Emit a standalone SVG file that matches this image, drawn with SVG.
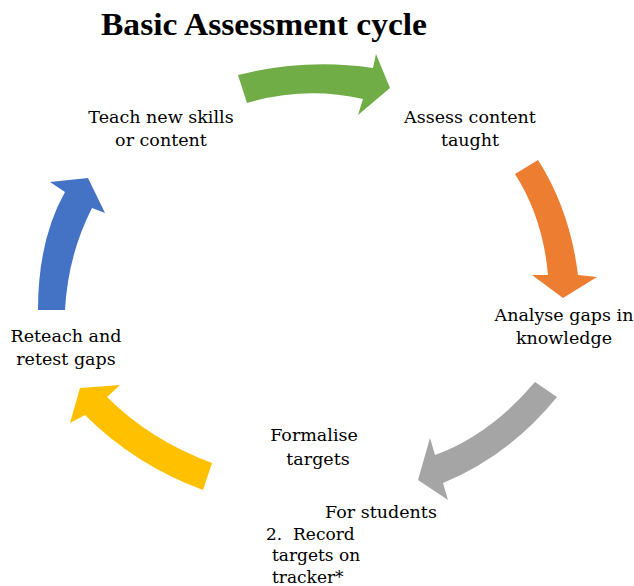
<svg xmlns="http://www.w3.org/2000/svg" width="634" height="586" viewBox="0 0 634 586">
  <style>
    .title { font-family: "Liberation Serif", "Times New Roman", serif; font-weight: bold; font-size: 31px; fill: #000; }
    .lbl { font-family: "DejaVu Serif", "Liberation Serif", serif; font-size: 17.5px; fill: #000; text-anchor: middle; }
    .lbl-l { font-family: "DejaVu Serif", "Liberation Serif", serif; font-size: 17px; fill: #000; }
  </style>
  <rect width="634" height="586" fill="#fff"/>

  <text class="title" x="101" y="35" textLength="326" lengthAdjust="spacingAndGlyphs">Basic Assessment cycle</text>

  <!-- curved block arrows of the cycle -->
  <g id="connectors">
    <path id="arrow-green" fill="#70AD47" d="M238,75 Q305,58 373,68 L376,54 L390,88 L358,115 L363,99 Q305,86 247,103 Z"/>
    <path id="arrow-orange" fill="#ED7D31" d="M538,160 Q570,210 578,275 L597,277 L563,298 L532,275 L548,275 Q543,218 515,174 Z"/>
    <path id="arrow-gray" fill="#A5A5A5" d="M535,382 Q490,435 435,455 L430,438 L418,480 L448,500 L443,483 Q510,455 557,397 Z"/>
    <path id="arrow-yellow" fill="#FFC000" d="M212,463 Q150,440 107,397 L120,385 L80,388 L70,423 L85,415 Q135,465 203,490 Z"/>
    <path id="arrow-blue" fill="#4472C4" d="M38,310 Q38,240 65,192 L50,182 L88,178 L105,213 L92,208 Q68,255 65,310 Z"/>
  </g>

  <g id="node-teach">
    <text class="lbl" x="161" y="123">Teach new skills</text>
    <text class="lbl" x="161" y="146">or content</text>
  </g>
  <g id="node-assess">
    <text class="lbl" x="470" y="123">Assess content</text>
    <text class="lbl" x="470" y="146">taught</text>
  </g>
  <g id="node-analyse">
    <text class="lbl" x="564" y="321">Analyse gaps in</text>
    <text class="lbl" x="564" y="344">knowledge</text>
  </g>
  <g id="node-formalise">
    <text class="lbl" x="314" y="441">Formalise</text>
    <text class="lbl" x="318" y="465">targets</text>
    <text class="lbl" x="381" y="518">For students</text>
    <text class="lbl-l" x="266" y="540" xml:space="preserve">2.  Record</text>
    <text class="lbl-l" x="272" y="561">targets on</text>
    <text class="lbl-l" x="272" y="583">tracker*</text>
  </g>
  <g id="node-reteach">
    <text class="lbl" x="66" y="342">Reteach and</text>
    <text class="lbl" x="66" y="365">retest gaps</text>
  </g>
</svg>
